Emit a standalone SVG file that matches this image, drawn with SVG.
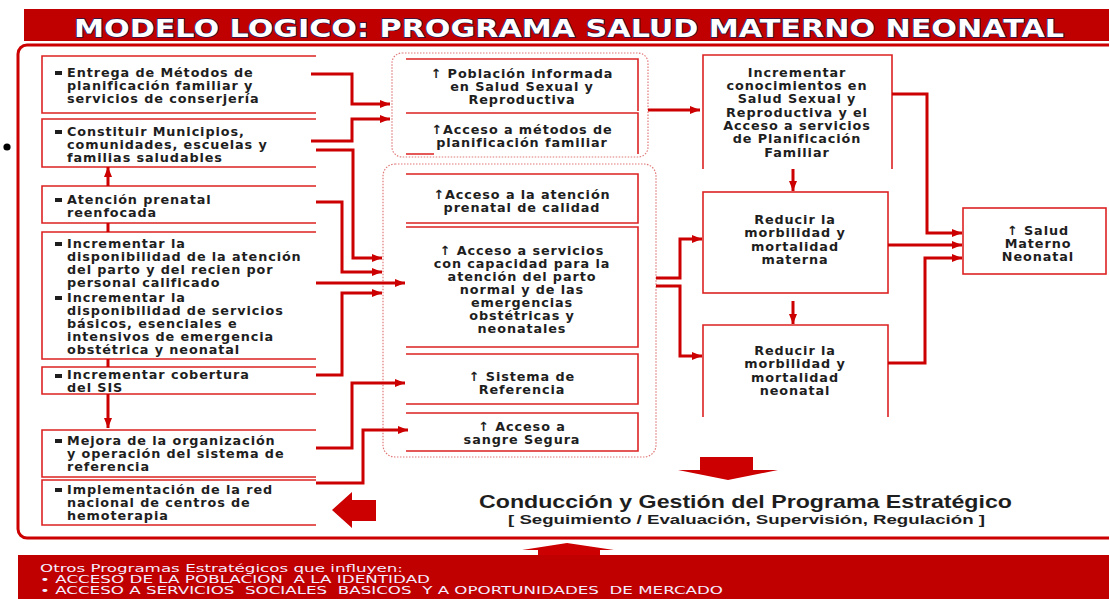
<svg xmlns="http://www.w3.org/2000/svg" width="1109" height="599" viewBox="0 0 1109 599">
<defs>
<marker id="ah" markerUnits="userSpaceOnUse" markerWidth="10" markerHeight="8" refX="10" refY="4" orient="auto"><path d="M0,0 L10,4 L0,8 z" fill="#cc0000"/></marker>
<style>
.t{font-family:"DejaVu Sans",Verdana,sans-serif;font-weight:bold;font-size:12.8px;letter-spacing:0.9px;fill:#1e1e1e}
.c{text-anchor:middle}
.box{fill:none;stroke:#dd2222;stroke-width:1.6}
.grp{fill:none;stroke:#e07878;stroke-width:1.2;stroke-dasharray:1.5 1.5}
.con{fill:none;stroke:#cc0000;stroke-width:3}
.arr{marker-end:url(#ah)}
.ft{font-family:"DejaVu Sans",Verdana,sans-serif;font-size:10.5px;fill:#f4ecff;white-space:pre}
</style>
</defs>
<rect width="1109" height="599" fill="#ffffff"/>
<g id="title">
<rect x="24" y="9" width="1090" height="32" fill="#c00000"/>
<text x="74" y="37" textLength="990" lengthAdjust="spacingAndGlyphs" font-family="DejaVu Sans,Verdana,sans-serif" font-weight="bold" font-size="25" fill="#ffffff" stroke="#1a1a50" stroke-width="1.4" paint-order="stroke">MODELO LOGICO: PROGRAMA SALUD MATERNO NEONATAL</text>
</g>
<rect id="frame" x="18" y="45" width="1110" height="493" rx="9" fill="none" stroke="#cc0000" stroke-width="3"/>
<circle cx="7" cy="147" r="3.6" fill="#000"/>

<g id="n1"><path class="box" d="M316,56 H42 V113 H316"/><rect x="55" y="71" width="7" height="4" fill="#1e1e1e"/>
<text class="t" x="67" y="77">Entrega de Métodos de</text><text class="t" x="67" y="90">planificación familiar y</text><text class="t" x="67" y="103">servicios de conserjería</text></g>
<g id="n2"><path class="box" d="M316,119 H42 V167 H316"/><rect x="55" y="130" width="7" height="4" fill="#1e1e1e"/>
<text class="t" x="67" y="136">Constituir Municipios,</text><text class="t" x="67" y="149">comunidades, escuelas y</text><text class="t" x="67" y="162">familias saludables</text></g>
<g id="n3"><path class="box" d="M316,186 H42 V223 H316"/><rect x="55" y="198" width="7" height="4" fill="#1e1e1e"/>
<text class="t" x="67" y="204">Atención prenatal</text><text class="t" x="67" y="217">reenfocada</text></g>
<g id="n4"><path class="box" d="M316,232 H42 V359 H316"/><rect x="55" y="242" width="7" height="4" fill="#1e1e1e"/><rect x="55" y="296" width="7" height="4" fill="#1e1e1e"/>
<text class="t" x="67" y="248">Incrementar la</text><text class="t" x="67" y="261">disponibilidad de la atención</text><text class="t" x="67" y="274">del parto y del recien por</text><text class="t" x="67" y="287">personal calificado</text>
<text class="t" x="67" y="302">Incrementar la</text><text class="t" x="67" y="315">disponibilidad de servicios</text><text class="t" x="67" y="328">básicos, esenciales e</text><text class="t" x="67" y="341">intensivos de emergencia</text><text class="t" x="67" y="354">obstétrica y neonatal</text></g>
<g id="n5"><path class="box" d="M316,367 H42 V394 H316"/><rect x="55" y="374" width="7" height="4" fill="#1e1e1e"/>
<text class="t" x="67" y="379">Incrementar cobertura</text><text class="t" x="67" y="392">del SIS</text></g>
<g id="n6"><path class="box" d="M316,430 H42 V477 H316"/><rect x="55" y="439" width="7" height="4" fill="#1e1e1e"/>
<text class="t" x="67" y="445">Mejora de la organización</text><text class="t" x="67" y="458">y operación del sistema de</text><text class="t" x="67" y="471">referencia</text></g>
<g id="n7"><path class="box" d="M316,480 H42 V525 H316"/><rect x="55" y="488" width="7" height="4" fill="#1e1e1e"/>
<text class="t" x="67" y="494">Implementación de la red</text><text class="t" x="67" y="507">nacional de centros de</text><text class="t" x="67" y="520">hemoterapia</text></g>

<rect class="grp" x="392" y="53" width="256" height="104" rx="10"/>
<rect class="grp" x="383" y="164" width="273" height="293" rx="12"/>
<g id="m1"><path class="box" d="M406,59 H638 V111"/>
<text class="t c" x="522" y="78">↑ Población informada</text><text class="t c" x="522" y="91">en Salud Sexual y</text><text class="t c" x="522" y="104">Reproductiva</text></g>
<g id="m2"><path class="box" d="M406,113 H638 V154 M406,154 H434"/>
<text class="t c" x="522" y="134">↑Acceso a métodos de</text><text class="t c" x="522" y="147">planificación familiar</text></g>
<g id="m3"><path class="box" d="M406,174 H638 V223 H406"/>
<text class="t c" x="522" y="199">↑Acceso a la atención</text><text class="t c" x="522" y="212">prenatal de calidad</text></g>
<g id="m4"><path class="box" d="M406,227 H638 V347 H406"/>
<text class="t c" x="522" y="255">↑ Acceso a servicios</text><text class="t c" x="522" y="268">con capacidad para la</text><text class="t c" x="522" y="281">atención del parto</text><text class="t c" x="522" y="294">normal y de las</text><text class="t c" x="522" y="307">emergencias</text><text class="t c" x="522" y="320">obstétricas y</text><text class="t c" x="522" y="333">neonatales</text></g>
<g id="m5"><path class="box" d="M406,354 H638 V404 H406"/>
<text class="t c" x="522" y="381">↑ Sistema de</text><text class="t c" x="522" y="394">Referencia</text></g>
<g id="m6"><path class="box" d="M406,413 H638 V451 H406"/>
<text class="t c" x="522" y="431">↑ Acceso a</text><text class="t c" x="522" y="444">sangre Segura</text></g>

<g id="r1"><path class="box" d="M703,169 V55 H892 V169"/>
<text class="t c" x="797" y="77">Incrementar</text><text class="t c" x="797" y="90">conocimientos en</text><text class="t c" x="797" y="103">Salud Sexual y</text><text class="t c" x="797" y="117">Reproductiva y el</text><text class="t c" x="797" y="130">Acceso a servicios</text><text class="t c" x="797" y="143">de Planificación</text><text class="t c" x="797" y="157">Familiar</text></g>
<g id="r2"><rect class="box" x="703" y="192" width="185" height="101"/>
<text class="t c" x="795" y="224">Reducir la</text><text class="t c" x="795" y="237">morbilidad y</text><text class="t c" x="795" y="251">mortalidad</text><text class="t c" x="795" y="264">materna</text></g>
<g id="r3"><path class="box" d="M703,417 V325 H888 V417"/>
<text class="t c" x="795" y="355">Reducir la</text><text class="t c" x="795" y="368">morbilidad y</text><text class="t c" x="795" y="382">mortalidad</text><text class="t c" x="795" y="395">neonatal</text></g>
<g id="r4"><rect class="box" x="963" y="208" width="143" height="66"/>
<text class="t c" x="1038" y="235">↑ Salud</text><text class="t c" x="1038" y="248">Materno</text><text class="t c" x="1038" y="261">Neonatal</text></g>

<g id="connectors">
<path class="con arr" d="M311,74 H352 V104 H390"/>
<path class="con arr" d="M311,141 H352 V119 H390"/>
<path class="con arr" d="M316,150 H353 V258 H382"/>
<path class="con arr" d="M316,202 H342 V272 H382"/>
<path class="con arr" d="M316,283 H405"/>
<path class="con arr" d="M316,375 H342 V293 H382"/>
<path class="con arr" d="M316,448 H352 V383 H405"/>
<path class="con arr" d="M316,483 H363 V430 H408"/>
<path class="con arr" d="M648,110 H700"/>
<path class="con arr" d="M656,278 H680 V239 H702"/>
<path class="con arr" d="M656,286 H680 V356 H702"/>
<path class="con arr" d="M892,94 H927 V233 H962"/>
<path class="con arr" d="M888,245 H962"/>
<path class="con arr" d="M888,363 H925 V258 H962"/>
<path class="con arr" d="M793,169 V191"/>
<path class="con arr" d="M793,301 V324"/>
<path class="con arr" d="M108,186 V167"/>
<path class="con" d="M108,223 V232"/>
<path class="con" d="M108,359 V367"/>
<path class="con arr" d="M108,394 V428"/>
</g>

<polygon points="700,457 753,457 753,470 778,470 728,480 678,470 700,470" fill="#cc0000"/>
<polygon points="332,510 352,492 352,500 376,500 376,521 352,521 352,528" fill="#cc0000"/>
<polygon points="522,550 567,543 614,550 600,550 600,556 538,556 538,550" fill="#cc0000"/>

<g id="conduccion">
<text x="479" y="508" textLength="533" lengthAdjust="spacingAndGlyphs" font-family="Liberation Sans,Arial,sans-serif" font-weight="bold" font-size="18.5" fill="#1e1e1e">Conducción y Gestión del Programa Estratégico</text>
<text x="508" y="524" textLength="477" lengthAdjust="spacingAndGlyphs" font-family="Liberation Sans,Arial,sans-serif" font-weight="bold" font-size="13.5" fill="#1e1e1e">[ Seguimiento / Evaluación, Supervisión, Regulación ]</text>
</g>

<g id="otros">
<rect x="18" y="555" width="1100" height="50" fill="#c00000"/>
<text class="ft" x="40" y="572" textLength="363" lengthAdjust="spacingAndGlyphs">Otros Programas Estratégicos que influyen:</text>
<text class="ft" x="40" y="583" textLength="390" lengthAdjust="spacingAndGlyphs">• ACCESO DE LA POBLACION  A LA IDENTIDAD</text>
<text class="ft" x="40" y="594" textLength="683" lengthAdjust="spacingAndGlyphs">• ACCESO A SERVICIOS  SOCIALES  BASICOS  Y A OPORTUNIDADES  DE MERCADO</text>
</g>
</svg>
